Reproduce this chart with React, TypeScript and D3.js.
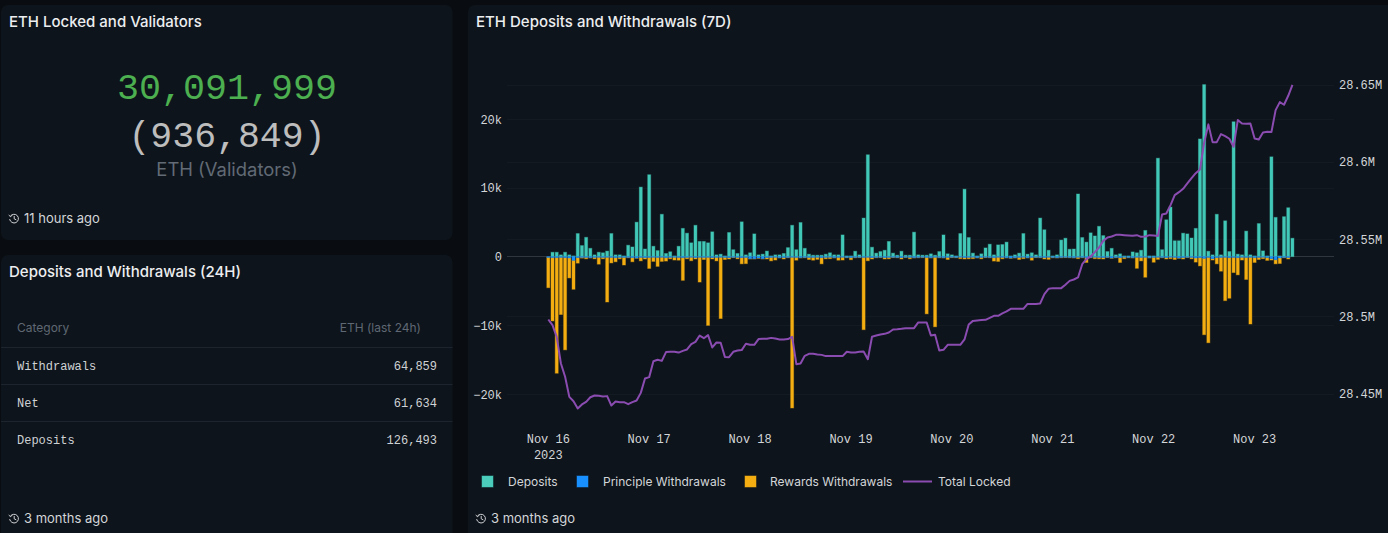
import React from "react";
import * as d3 from "d3";

const depositsK = [
0,.63,.63,.25,.63,.25,.1,3.35,1.6,2.8,1.2,.25,.63,.55,.8,3.35,.25,.25,.1,1.65,1.4,5.0,10.1,1.1,11.9,1.5,.87,6.15,.45,.7,.1,1.5,4.1,3.4,2.0,4.55,2.2,2.2,2.0,3.6,.25,.35,.1,3.5,1.0,.45,5.05,.25,.55,3.3,.25,.35,.8,.1,.25,.25,.45,1.3,4.55,1.0,4.95,1.2,.35,
.2,.2,.2,.35,.55,.25,.25,3.15,.1,.1,.78,.25,5.6,14.8,1.36,.5,.73,.92,2.2,.5,.2,.78,.2,.2,3.55,.25,.2,.2,.4,.2,.73,3.15,.4,.25,.1,3.35,9.8,2.77,.5,.1,.4,1.26,1.8,.25,1.7,1.75,2.1,.1,.25,.5,3.35,.35,.55,.25,5.6,3.9,.92,.1,.25,2.4,2.67,1.07,1.1,9.1,
2.77,2.1,3.45,3.0,4.4,3.05,.73,1.2,.25,.4,.1,.1,.68,.55,.92,3.8,.1,.1,14.3,1.0,5.35,7.2,2.3,2.3,3.4,3.3,2.7,4.1,17.1,25.0,.78,.25,6.15,.25,5.2,.73,19.6,.35,.25,3.7,.25,.1,4.8,.83,.1,14.5,5.7,.1,5.8,7.1,2.67];

const principalK = [
.12,.15,.15,.12,.15,.2,.55,.15,.12,.12,.15,.12,.1,.12,.1,.12,.15,.12,.12,.12,.15,.2,.12,.15,.12,.1,.12,.1,.15,.12,.1,.12,.15,.12,.1,.15,.1,.12,.1,.15,.12,.1,.12,.15,.1,.12,.15,.12,.3,.3,.2,.3,.15,.12,.1,.15,.15,.12,.1,.12,.15,.12,.12,
.12,.1,.15,.12,.1,.15,.12,.1,.12,.15,.12,.1,.12,.1,.15,.12,.1,.15,.12,.1,.12,.15,.1,.12,.15,.12,.1,.12,.15,.1,.12,.15,.12,.1,.12,.1,.15,.12,.1,.15,.12,.1,.12,.15,.1,.12,.15,.2,.15,.12,.1,.15,.12,.1,.12,.15,.1,.12,.15,.12,.1,.12,.15,.1,
.12,.15,.12,.1,.12,.15,.1,.2,.12,.15,.1,.12,.15,.1,.12,.1,.15,.12,.1,.12,.15,.1,.12,.2,.15,.1,.12,.2,.15,.25,.12,.3,.15,.12,.1,.15,.12,.15,.1,.12,.1,.15,.12,.1,.15,.3,.45,.2,.12,.15];

const rewardsK = [
4.4,9.2,16.8,8.3,13.4,2.9,4.2,.8,.1,.2,.05,.2,1.0,.2,6.5,.8,.6,.2,1.1,.05,.6,.05,.5,.2,1.6,.6,1.3,.6,.5,.2,.4,.4,3.3,.2,.5,.2,3.6,.3,9.9,.2,.5,8.9,.3,.2,.05,.2,.9,.9,.05,.05,.05,.05,.2,.5,.4,.05,.2,.05,21.9,.4,.05,.05,.3,
.4,.3,.9,.2,.2,.05,.4,.4,.05,.3,.05,.05,10.5,.5,.2,.05,.05,.2,.2,.05,.05,.2,.05,.2,.05,.05,.05,8.2,.05,10.1,.05,.05,.3,.05,.05,.2,.2,.2,.2,.05,.2,.05,.05,.5,.6,.2,.05,.05,.05,.3,.2,.05,.4,.05,.05,.2,.3,.05,.05,.05,.05,.05,.05,.2,
.05,.7,.05,.2,.2,.2,.05,.05,.05,.7,.2,.05,.05,1.6,.5,2.9,.05,.7,.3,.05,.2,.2,.3,.05,.2,.05,.2,.6,1.2,11.1,12.4,.2,.9,2.0,6.3,5.9,2.2,2.5,.4,3.2,9.7,.7,.3,.2,.4,.2,.6,.8,.05,.2,.05];

const totalLockedK = [
28497.9,28494.2,28486.7,28469.4,28460.8,28447.8,28445,28440.3,28442.9,28444.6,28447.6,28448.7,28448.5,28448.1,28448.3,28442.2,28444.8,28444.4,28444.4,28443.1,28444.4,28445.5,28450.4,28459.7,28460.6,28470.9,28471.8,28471.1,28476.8,28477,28477,28476.5,28477.6,28478.5,28481.9,28483.4,28487.5,28485.8,28487.8,28479.8,28483,28482.8,28473.7,28473.5,28477,28477.8,28478.1,28482.2,28481.5,28481.5,28485.2,28485.4,28485.4,28486,28485.6,28485,28485,28485.2,28486.7,28469,28469.4,28474.4,28475.7,
28475.7,28475.2,28475,28474.2,28474.2,28474.2,28474.2,28474.2,28477,28476.5,28476.5,28477,28477.2,28472.2,28486.7,28487.5,28488.2,28488.6,28489.5,28491.4,28491.6,28491.9,28492.3,28492.3,28492.3,28496,28496,28496,28487.5,28488,28477.8,28478.3,28481.5,28481.5,28481.5,28481.5,28485,28494.7,28497,28497.3,28497.5,28497.7,28499,28500.3,28500.3,28501.8,28503.1,28504.8,28504.8,28504.8,28504.8,28508,28508,28508,28508.3,28514.3,28517.8,28518.2,28518.2,28518.2,28520.4,28522.9,28523.8,28525.1,
28533.7,28537,28538.7,28541.5,28544.5,28548.8,28551,28551.6,28552.7,28552.7,28552.5,28552.3,28552.1,28552.5,28551.4,28551.6,28552.5,28552.3,28551.9,28565.9,28566.5,28571.9,28578.4,28580.3,28582.5,28586,28589.4,28592.6,28595,28612.3,28624.2,28612.7,28612.7,28617.9,28616.6,28614.9,28609.7,28627,28624.8,28624.6,28624.8,28615.1,28614.4,28619,28619.4,28619.2,28633.4,28638.6,28636.9,28642.7,28649.8];

const leftTicks = [-20000, -10000, 0, 10000, 20000];
const rightTicks = [28450000, 28500000, 28550000, 28600000, 28650000];
const dayTicks = ["Nov 16", "Nov 17", "Nov 18", "Nov 19", "Nov 20", "Nov 21", "Nov 22", "Nov 23"];
const tableRows = [["Withdrawals", "64,859"], ["Net", "61,634"], ["Deposits", "126,493"]];

const TEAL = "#42c8b7", BLUE = "#1890ff", AMBER = "#f4ae11", PURPLE = "#8a4cb0";
const SANS = "Inter, sans-serif";
const MONO = "'Liberation Mono', monospace";
const TXT = "#d3d6d9";

const START = Date.UTC(2023, 10, 16);
const HOUR = 3600000;
const x = d3.scaleUtc().domain([START, START + 8 * 24 * HOUR]).range([548.3, 548.3 + 8 * 100.9]);
const y = d3.scaleLinear().domain([-20000, 20000]).range([394.2, 119]);
const yR = d3.scaleLinear().domain([28450000, 28650000]).range([393.5, 84.5]);
const tAt = (i: number) => START + i * HOUR;
const leftFmt = (v: number) => (v === 0 ? "0" : `${d3.format("d")(v / 1000)}k`);
const rightFmt = (v: number) => `${d3.format(".4~f")(v / 1e6)}M`;

const lineGen = d3.line<number>()
  .x((_, i) => x(tAt(i)))
  .y((d) => yR(d * 1000));

function Bar({ xc, v0, v1, color }: { xc: number; v0: number; v1: number; color: string }) {
  const a = y(Math.max(v0, v1)), b = y(Math.min(v0, v1));
  const h = Math.abs(b - a);
  if (h <= 0) return null;
  return (
    <rect x={xc - 1.5} y={a} width={3} height={h} fill={color} stroke={color} strokeOpacity={0.38} strokeWidth={1} />
  );
}

function Clock({ x: cx, y: cy }: { x: number; y: number }) {
  return (
    <g transform={`translate(${cx},${cy})`} fill="none" stroke="#d0d3d6" strokeWidth={1} strokeLinecap="round" strokeLinejoin="round">
      <path d="M-3.6,-2.4 A4.4,4.4 0 1 1 -4.3,1" />
      <path d="M-5,-3.2 L-3.6,-1.9 L-2,-3" />
      <path d="M0.2,-2.2 L0.2,0.3 L2,1.2" />
    </g>
  );
}

function Footer({ x: fx, y: fy, text }: { x: number; y: number; text: string }) {
  return (
    <g>
      <Clock x={fx + 5} y={fy - 4.5} />
      <text x={fx + 15} y={fy} fontFamily={SANS} fontSize={13} fill={TXT}>{text}</text>
    </g>
  );
}

export default function App() {
  const gridYs = [...leftTicks.filter((t) => t !== 0).map((t) => y(t)), ...rightTicks.map((t) => yR(t))];
  const legendY = 481.5;
  return (
    <svg width={1388} height={533} style={{ position: "fixed", left: 0, top: 0, background: "#090d11" }}>
      <rect x={1} y={5} width={451.5} height={235} rx={7} fill="#0e141b" />
      <rect x={1} y={255} width={451.5} height={290} rx={7} fill="#0e141b" />
      <rect x={468} y={5} width={930} height={540} rx={7} fill="#0e141b" />

      <text x={9} y={27} fontFamily={SANS} fontSize={15} fontWeight={500} fill="#eceef0">ETH Locked and Validators</text>
      <text x={227} y={99} textAnchor="middle" fontFamily={MONO} fontSize={36.7} fill="#4caf50">30,091,999</text>
      <text x={227} y={147} textAnchor="middle" fontFamily={MONO} fontSize={36.5} fill="#bdbdbd">(936,849)</text>
      <text x={227} y={175.5} textAnchor="middle" fontFamily={SANS} fontSize={18.4} fill="#616a75">ETH (Validators)</text>
      <Footer x={9} y={223} text="11 hours ago" />

      <text x={9} y={277} fontFamily={SANS} fontSize={15} fontWeight={500} fill="#eceef0">Deposits and Withdrawals (24H)</text>
      <text x={17} y={332} fontFamily={SANS} fontSize={12} fill="#5f6873">Category</text>
      <text x={421} y={332} textAnchor="end" fontFamily={SANS} fontSize={12} fill="#5f6873">ETH (last 24h)</text>
      {[347.5, 384.5, 421.5].map((ly) => (
        <line key={ly} x1={1} x2={452.5} y1={ly} y2={ly} stroke="#1d242d" />
      ))}
      {tableRows.map(([name, val], i) => (
        <g key={name} fontFamily={MONO} fontSize={12} fill="#cfd2d5">
          <text x={17} y={370 + i * 37}>{name}</text>
          <text x={437} y={370 + i * 37} textAnchor="end">{val}</text>
        </g>
      ))}
      <Footer x={9} y={523} text="3 months ago" />

      <text x={476} y={27} fontFamily={SANS} fontSize={15} fontWeight={500} fill="#eceef0">ETH Deposits and Withdrawals (7D)</text>

      {gridYs.map((gy, i) => (
        <line key={i} x1={507} x2={1334} y1={Math.round(gy) + 0.5} y2={Math.round(gy) + 0.5} stroke="#141a21" />
      ))}
      <line x1={507} x2={1334} y1={256.5} y2={256.5} stroke="#30363d" />

      {depositsK.map((d, i) => (
        <Bar key={`d${i}`} xc={x(tAt(i))} v0={0} v1={d * 1000} color={TEAL} />
      ))}
      {rewardsK.map((r, i) => (
        <Bar key={`r${i}`} xc={x(tAt(i))} v0={-principalK[i] * 1000} v1={-(principalK[i] + r) * 1000} color={AMBER} />
      ))}
      {principalK.map((p, i) => (
        <Bar key={`p${i}`} xc={x(tAt(i))} v0={0} v1={-p * 1000} color={BLUE} />
      ))}
      <path d={lineGen(totalLockedK) ?? ""} fill="none" stroke={PURPLE} strokeWidth={2} strokeLinejoin="round" />

      <g fontFamily={MONO} fontSize={12} fill={TXT}>
        {leftTicks.map((t) => (
          <text key={t} x={502} y={y(t) + 4.5} textAnchor="end">{leftFmt(t)}</text>
        ))}
        {rightTicks.map((t) => (
          <text key={t} x={1339} y={yR(t) + 4.5}>{rightFmt(t)}</text>
        ))}
        {dayTicks.map((label, i) => (
          <text key={label} x={x(tAt(i * 24))} y={443} textAnchor="middle">{label}</text>
        ))}
        <text x={x(START)} y={459} textAnchor="middle">2023</text>
      </g>

      <g fontFamily={SANS} fontSize={12} fill={TXT}>
        <rect x={482} y={476} width={11} height={11} fill="#4ccdbc" stroke={TEAL} strokeOpacity={0.5} />
        <text x={508} y={legendY + 4.5}>Deposits</text>
        <rect x={577} y={476} width={11} height={11} fill={BLUE} stroke={BLUE} strokeOpacity={0.5} />
        <text x={603} y={legendY + 4.5}>Principle Withdrawals</text>
        <rect x={745} y={476} width={11} height={11} fill={AMBER} stroke={AMBER} strokeOpacity={0.5} />
        <text x={770} y={legendY + 4.5}>Rewards Withdrawals</text>
        <line x1={903} x2={932} y1={legendY} y2={legendY} stroke={PURPLE} strokeWidth={2} />
        <text x={938} y={legendY + 4.5}>Total Locked</text>
      </g>
      <Footer x={476} y={523} text="3 months ago" />
    </svg>
  );
}
